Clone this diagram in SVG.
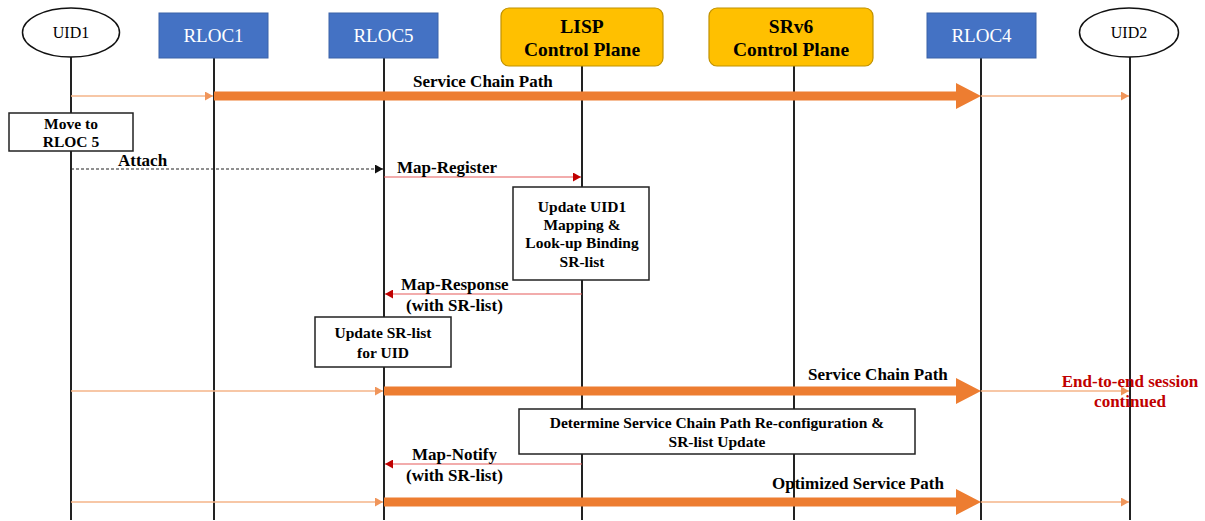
<svg xmlns="http://www.w3.org/2000/svg" width="1205" height="521" viewBox="0 0 1205 521">
  <style>
    .life { stroke: #222; stroke-width: 2; }
    .rloc { fill: #4472C4; stroke: #3A62A8; stroke-width: 1; }
    .rloc-t { font: 19px "Liberation Serif", serif; fill: #fff; text-anchor: middle; }
    .uid { fill: #fff; stroke: #111; stroke-width: 1.5; }
    .uid-t { font: 16px "Liberation Serif", serif; fill: #000; text-anchor: middle; }
    .cp { fill: #FFC000; stroke: #C09100; stroke-width: 1.2; }
    .cp-t { font: bold 19.5px "Liberation Serif", serif; fill: #000; text-anchor: middle; }
    .note { fill: #fff; stroke: #222; stroke-width: 1.5; }
    .note-t { font: bold 15.5px "Liberation Serif", serif; fill: #000; text-anchor: middle; }
    .lbl { font: bold 17px "Liberation Serif", serif; fill: #000; }
    .red-t { font: bold 17px "Liberation Serif", serif; fill: #C00000; text-anchor: middle; }
    .thin { stroke: #F5B488; stroke-width: 1.5; fill: none; }
    .thick { fill: #ED7D31; }
    .msg { stroke: #E55A5A; stroke-width: 1.2; fill: none; }
    .dash { stroke: #222; stroke-width: 1.2; stroke-dasharray: 3 2; fill: none; }
  </style>
  <defs>
    <marker id="ah-or" markerWidth="9" markerHeight="9" refX="8" refY="4.5" orient="auto" markerUnits="userSpaceOnUse">
      <path d="M0,0 L8,4.5 L0,9 Z" fill="#F0955A"/>
    </marker>
    <marker id="ah-red" markerWidth="9" markerHeight="9" refX="8" refY="4.5" orient="auto" markerUnits="userSpaceOnUse">
      <path d="M0,0 L8,4.5 L0,9 Z" fill="#C00000"/>
    </marker>
    <marker id="ah-blk" markerWidth="9" markerHeight="9" refX="8" refY="4.5" orient="auto" markerUnits="userSpaceOnUse">
      <path d="M0,0 L8,4.5 L0,9 Z" fill="#111"/>
    </marker>
  </defs>

  <rect width="1205" height="521" fill="#fff"/>

  <!-- lifelines -->
  <g id="lifelines">
    <line class="life" x1="71" y1="57" x2="71" y2="520"/>
    <line class="life" x1="214" y1="58" x2="214" y2="520"/>
    <line class="life" x1="384" y1="58" x2="384" y2="520"/>
    <line class="life" x1="582" y1="66" x2="582" y2="520"/>
    <line class="life" x1="794" y1="66" x2="794" y2="520"/>
    <line class="life" x1="981" y1="58" x2="981" y2="520"/>
    <line class="life" x1="1130" y1="57" x2="1130" y2="520"/>
  </g>

  <!-- participants -->
  <g id="uid1">
    <ellipse class="uid" cx="71" cy="32.5" rx="48.5" ry="24.5"/>
    <text class="uid-t" x="71" y="38">UID1</text>
  </g>
  <g id="rloc1">
    <rect class="rloc" x="159" y="13" width="109" height="45"/>
    <text class="rloc-t" x="213.5" y="42">RLOC1</text>
  </g>
  <g id="rloc5">
    <rect class="rloc" x="329" y="13" width="109" height="45"/>
    <text class="rloc-t" x="383.5" y="42">RLOC5</text>
  </g>
  <g id="lisp-cp">
    <rect class="cp" x="501" y="8" width="162" height="58" rx="8"/>
    <text class="cp-t" x="582" y="33">LISP</text>
    <text class="cp-t" x="582" y="56">Control Plane</text>
  </g>
  <g id="srv6-cp">
    <rect class="cp" x="709" y="8" width="164" height="58" rx="8"/>
    <text class="cp-t" x="791" y="33">SRv6</text>
    <text class="cp-t" x="791" y="56">Control Plane</text>
  </g>
  <g id="rloc4">
    <rect class="rloc" x="927" y="13" width="109" height="45"/>
    <text class="rloc-t" x="981.5" y="42">RLOC4</text>
  </g>
  <g id="uid2">
    <ellipse class="uid" cx="1129" cy="32.5" rx="49.5" ry="24.5"/>
    <text class="uid-t" x="1129" y="38">UID2</text>
  </g>

  <!-- activity notes -->
  <g id="note-move">
    <rect class="note" x="9" y="113" width="124" height="38"/>
    <text class="note-t" x="71" y="129">Move to</text>
    <text class="note-t" x="71" y="147">RLOC 5</text>
  </g>
  <g id="note-update-uid1">
    <rect class="note" x="513" y="187" width="136" height="93"/>
    <text class="note-t" x="582" y="212">Update UID1</text>
    <text class="note-t" x="582" y="230">Mapping &amp;</text>
    <text class="note-t" x="582" y="248">Look-up Binding</text>
    <text class="note-t" x="582" y="267">SR-list</text>
  </g>
  <g id="note-update-srlist">
    <rect class="note" x="315" y="317" width="136" height="50"/>
    <text class="note-t" x="383" y="338">Update SR-list</text>
    <text class="note-t" x="383" y="358">for UID</text>
  </g>
  <g id="note-determine">
    <rect class="note" x="519" y="409" width="396" height="45"/>
    <text class="note-t" x="717" y="428">Determine Service Chain Path Re-configuration &amp;</text>
    <text class="note-t" x="717" y="447">SR-list Update</text>
  </g>

  <!-- connectors -->
  <g id="connectors">
    <!-- first service chain path -->
    <line class="thin" x1="71" y1="96" x2="213" y2="96" marker-end="url(#ah-or)"/>
    <path class="thick" d="M214,91.5 H956 V83 L981,96 L956,109 V100.5 H214 Z"/>
    <line class="thin" x1="981" y1="96" x2="1129" y2="96" marker-end="url(#ah-or)"/>

    <!-- attach -->
    <line class="dash" x1="71" y1="169" x2="383" y2="169" marker-end="url(#ah-blk)"/>

    <!-- map register -->
    <line class="msg" x1="384" y1="177" x2="581" y2="177" marker-end="url(#ah-red)"/>

    <!-- map response -->
    <line class="msg" x1="582" y1="294" x2="385" y2="294" marker-end="url(#ah-red)"/>

    <!-- second service chain path -->
    <line class="thin" x1="71" y1="391" x2="383" y2="391" marker-end="url(#ah-or)"/>
    <path class="thick" d="M384,386.5 H956 V378 L981,391 L956,404 V395.5 H384 Z"/>
    <line class="thin" x1="981" y1="391" x2="1129" y2="391" marker-end="url(#ah-or)"/>

    <!-- map notify -->
    <line class="msg" x1="582" y1="464" x2="385" y2="464" marker-end="url(#ah-red)"/>

    <!-- optimized service path -->
    <line class="thin" x1="71" y1="502" x2="383" y2="502" marker-end="url(#ah-or)"/>
    <path class="thick" d="M384,497.5 H956 V489 L981,502 L956,515 V506.5 H384 Z"/>
    <line class="thin" x1="981" y1="502" x2="1129" y2="502" marker-end="url(#ah-or)"/>
  </g>

  <!-- message labels -->
  <g id="labels">
    <text class="lbl" x="413" y="87">Service Chain Path</text>
    <text class="lbl" x="118" y="166">Attach</text>
    <text class="lbl" x="397" y="173">Map-Register</text>
    <text class="lbl" x="401" y="290">Map-Response</text>
    <text class="lbl" x="406" y="311">(with SR-list)</text>
    <text class="lbl" x="808" y="380">Service Chain Path</text>
    <text class="lbl" x="412" y="460">Map-Notify</text>
    <text class="lbl" x="406" y="481">(with SR-list)</text>
    <text class="lbl" x="772" y="489">Optimized Service Path</text>
    <text class="red-t" x="1130" y="387">End-to-end session</text>
    <text class="red-t" x="1130" y="407">continued</text>
  </g>
</svg>
